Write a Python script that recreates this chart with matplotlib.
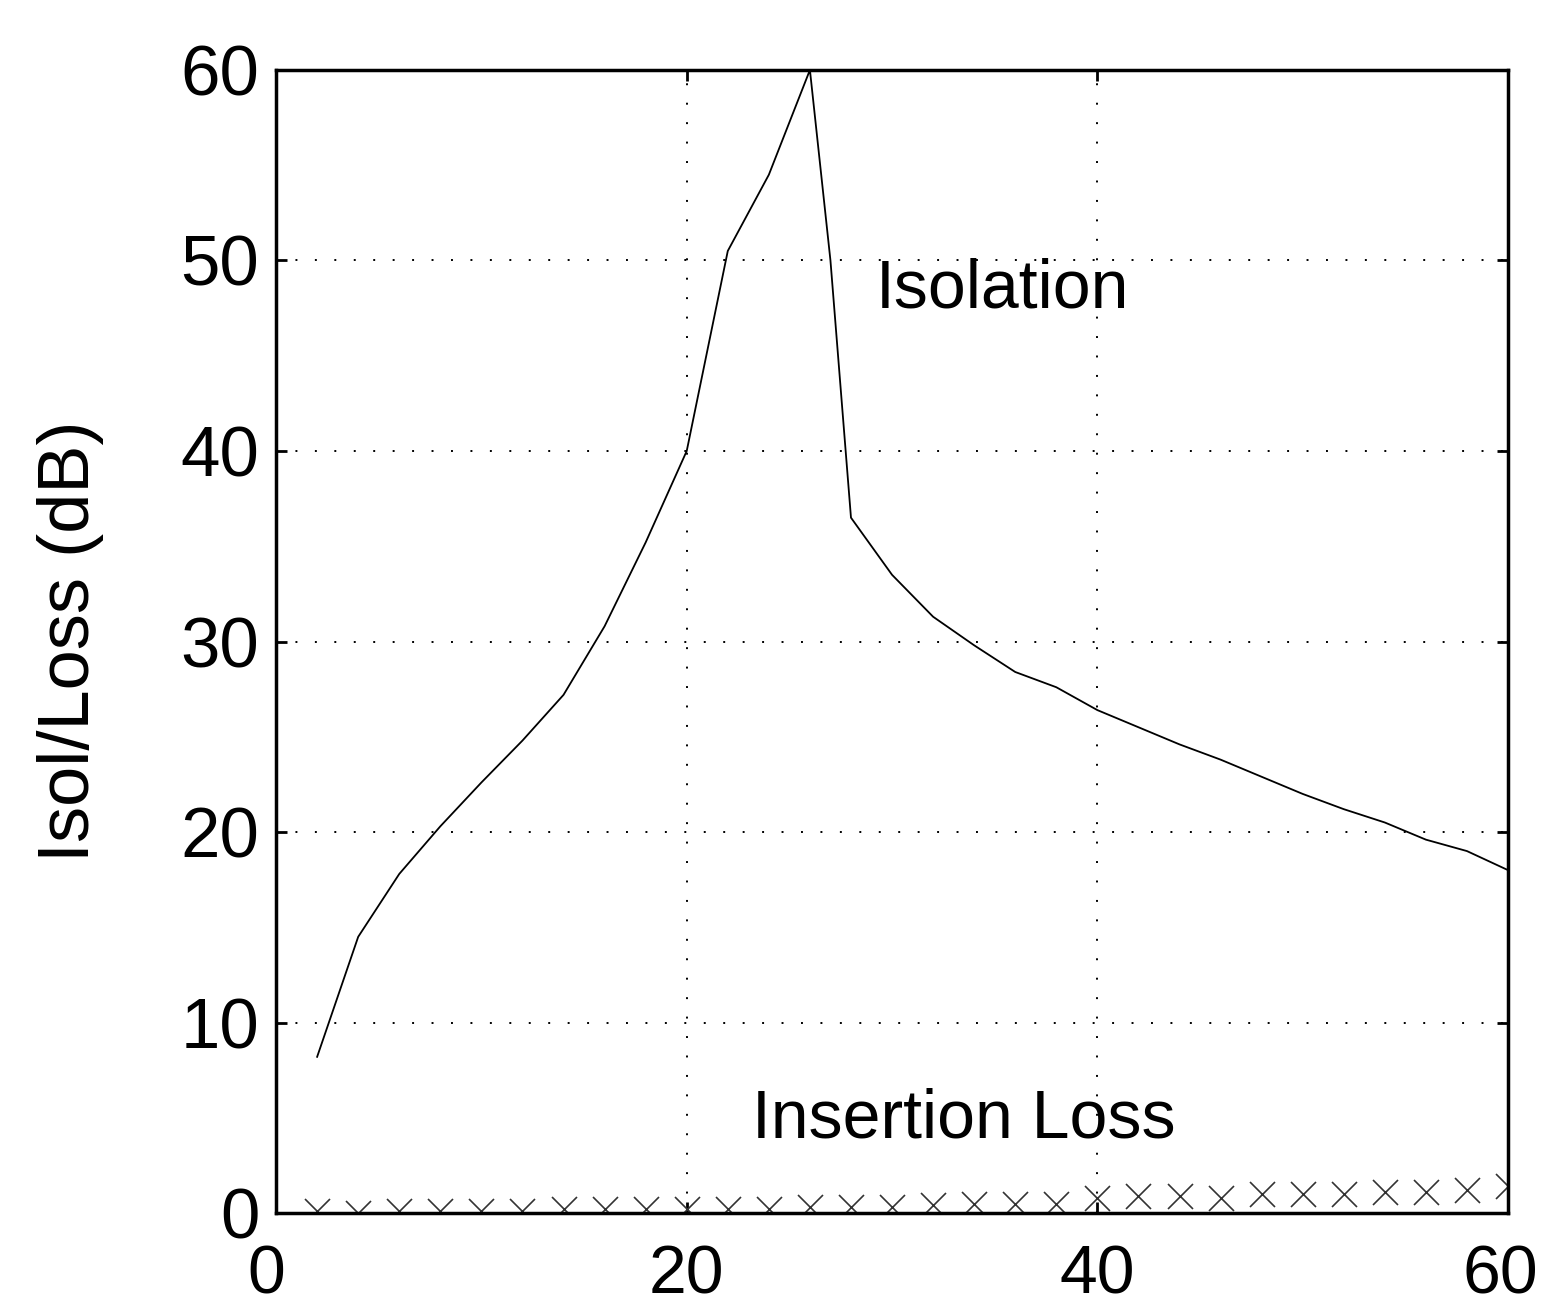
import numpy as np
import matplotlib.pyplot as plt
import matplotlib.transforms as mtransforms

plt.rcParams['font.family'] = ['Liberation Sans', 'DejaVu Sans']

# isolation curve (dB)
iso_x = [2, 4, 6, 8, 10, 12, 14, 16, 18, 20, 22, 24, 26, 27, 28, 30, 32, 34,
         36, 38, 40, 42, 44, 46, 48, 50, 52, 54, 56, 58, 60]
iso_y = [8.2, 14.5, 17.8, 20.3, 22.6, 24.8, 27.2, 30.8, 35.2, 40.0, 50.5, 54.5,
         60.0, 50.0, 36.5, 33.5, 31.3, 29.8, 28.4, 27.6, 26.4, 25.5, 24.6, 23.8,
         22.9, 22.0, 21.2, 20.5, 19.6, 19.0, 18.0]

# insertion loss (dB), x markers
il_x = list(range(2, 61, 2))
il_y = [0.1, 0.0, 0.1, 0.1, 0.1, 0.1, 0.2, 0.2, 0.2, 0.2,
        0.2, 0.2, 0.3, 0.3, 0.3, 0.4, 0.5, 0.5, 0.5,
        0.8, 0.9, 0.9, 0.8, 1.0, 1.0, 1.0, 1.1, 1.1, 1.2, 1.4]

fig = plt.figure(figsize=(15.44, 13.10), dpi=100)
ax = fig.add_axes([0.1788, 0.074, 0.9767 - 0.1788, 0.9466 - 0.074])

ax.plot(iso_x, iso_y, color='black', lw=1.3)
ax.plot(il_x, il_y, linestyle='none', marker='x', ms=18, mew=1.2, color='#333333')

ax.set_xlim(0, 60)
ax.set_ylim(0, 60)
ax.set_xticks([0, 20, 40, 60])
ax.set_yticks(range(0, 61, 10))
ax.grid(True, linestyle=(0, (1, 9)), color='black', lw=1.4)
ax.tick_params(direction='in', length=8, width=2, top=True, right=True,
               labelsize=51)
ax.tick_params(axis='x', pad=22, labelsize=49)
ax.tick_params(axis='y', pad=12)
for s in ax.spines.values():
    s.set_linewidth(2.5)

# keep the "0" and "60" labels a bit inward, as in the original
xl = ax.get_xticklabels()
xl[0].set_transform(xl[0].get_transform() + mtransforms.ScaledTranslation(-10 / 100, 0, fig.dpi_scale_trans))
xl[-1].set_transform(xl[-1].get_transform() + mtransforms.ScaledTranslation(-8 / 100, 0, fig.dpi_scale_trans))

ax.text(29.2, 48.5, 'Isolation', fontsize=49, va='center', ha='left')
ax.text(23.2, 4.9, 'Insertion Loss', fontsize=49, va='center', ha='left')
ax.set_ylabel('Isol/Loss (dB)', fontsize=52, labelpad=55)

fig.savefig('out.png', dpi=100, facecolor='white')
